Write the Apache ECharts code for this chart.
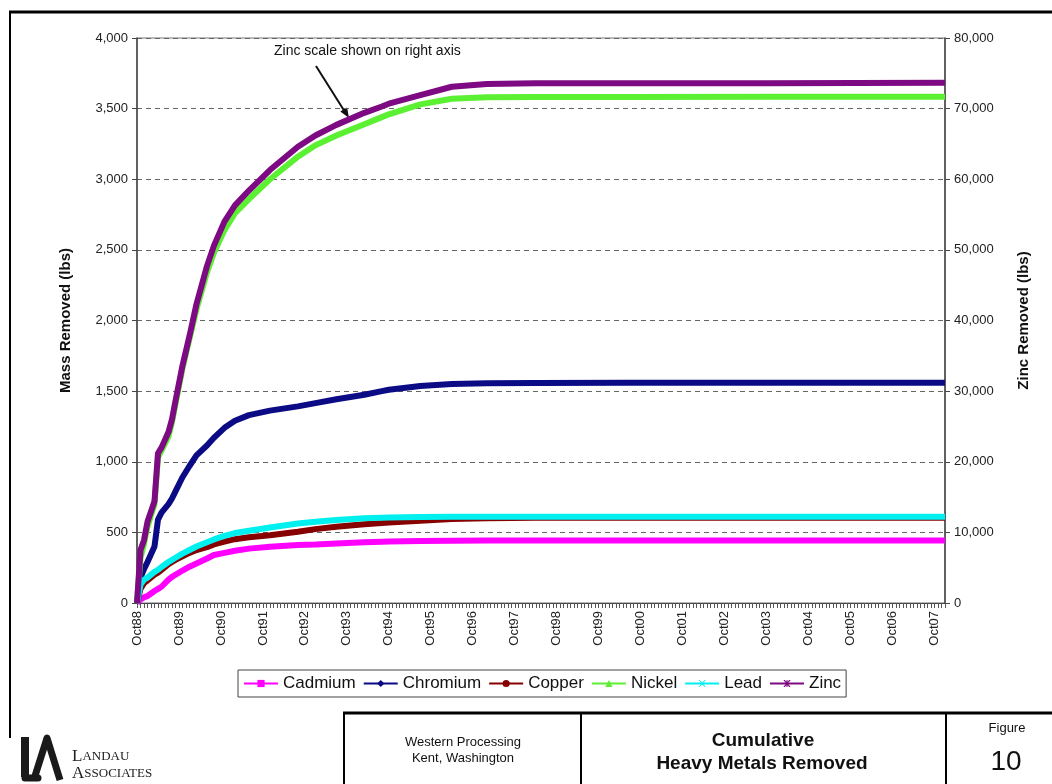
<!DOCTYPE html>
<html>
<head>
<meta charset="utf-8">
<script src="https://cdn.jsdelivr.net/npm/echarts@6/dist/echarts.min.js"></script>
<style>
  html, body { margin: 0; padding: 0; background: #fff; }
  #chart { width: 1052px; height: 784px; }
</style>
</head>
<body>
<div id="chart"></div>
<script>
// month categories, Oct 1988 .. Jan 2008
const monthNames = ['Jan', 'Feb', 'Mar', 'Apr', 'May', 'Jun', 'Jul', 'Aug', 'Sep', 'Oct', 'Nov', 'Dec'];
const months = [];
for (let i = 0; i < 232; i++) {
  let m = (9 + i) % 12;
  let y = (88 + Math.floor((9 + i) / 12)) % 100;
  months.push(monthNames[m] + String(y).padStart(2, '0'));
}

const sampleIdx = [0, 1, 2, 3, 5, 6, 7, 9, 10, 11, 13, 15, 17, 20, 22, 25, 28, 32, 38, 46, 51, 57, 65, 70, 72, 81, 90, 100, 114, 140, 180, 231];

// cumulative lbs removed
const cadmium = [0, 25, 40, 50, 85, 100, 115, 165, 185, 200, 230, 257, 280, 315, 340, 355, 370, 385, 398, 410, 415, 422, 430, 434, 435, 439, 441, 442, 442, 442, 442, 442];
const chromium = [0, 180, 240, 290, 400, 590, 640, 700, 740, 790, 890, 970, 1045, 1115, 1170, 1240, 1290, 1330, 1362, 1392, 1415, 1442, 1474, 1500, 1510, 1537, 1550, 1555, 1557, 1559, 1560, 1560];
const copper = [0, 100, 140, 160, 200, 215, 235, 275, 290, 305, 330, 355, 375, 395, 415, 435, 452, 465, 480, 505, 523, 540, 558, 566, 570, 582, 594, 600, 603, 604, 604, 604];
const nickel = [0, 320, 420, 540, 700, 1030, 1080, 1180, 1280, 1410, 1660, 1870, 2080, 2340, 2480, 2640, 2760, 2860, 3000, 3160, 3240, 3310, 3390, 3440, 3460, 3530, 3570, 3580, 3582, 3583, 3584, 3584];
const lead = [0, 130, 165, 180, 220, 235, 255, 290, 305, 320, 350, 375, 400, 430, 450, 475, 495, 512, 535, 563, 575, 588, 600, 604, 605, 609, 610, 611, 611, 611, 611, 611];
// zinc on right axis
const zinc = [0, 7500, 8900, 11500, 14400, 21200, 22000, 24200, 26000, 28600, 33600, 37800, 42300, 47700, 50600, 54000, 56300, 58400, 61300, 64600, 66200, 67700, 69400, 70300, 70700, 71900, 73100, 73500, 73600, 73600, 73600, 73650];

function pairs(vals) {
  return sampleIdx.map((m, i) => [m, vals[i]]);
}
function commas(v) {
  return String(v).replace(/\B(?=(\d{3})+(?!\d))/g, ',');
}

const starX = 'path://M0,0 L2,0 L5,3.5 L8,0 L10,0 L6.2,5 L10,10 L8,10 L5,6.5 L2,10 L0,10 L3.8,5 Z M4.3,0 L5.7,0 L5.7,10 L4.3,10 Z';
const plainX = 'path://M0,0 L1.5,0 L5,4 L8.5,0 L10,0 L5.8,5 L10,10 L8.5,10 L5,6 L1.5,10 L0,10 L4.2,5 Z';

function metal(name, vals, color, symbol, size, axis) {
  return {
    name: name,
    type: 'line',
    yAxisIndex: axis || 0,
    data: pairs(vals),
    symbol: symbol,
    symbolSize: size,
    showSymbol: false,
    lineStyle: { color: color, width: 6 },
    itemStyle: { color: color, borderWidth: 0 },
    animation: false
  };
}

let chart = echarts.init(document.getElementById('chart'));
let option = {
  animation: false,
  textStyle: { fontFamily: 'Arial, Liberation Sans, sans-serif' },
  grid: { left: 137, right: 107, top: 38, bottom: 181, show: true, borderColor: '#777', borderWidth: 1 },
  legend: {
    left: 238, top: 670,
    itemWidth: 34, itemHeight: 9, itemGap: 7,
    padding: [5, 5],
    borderColor: '#444', borderWidth: 1,
    textStyle: { fontSize: 17, color: '#111', fontFamily: 'Arial, Liberation Sans, sans-serif' },
    data: ['Cadmium', 'Chromium', 'Copper', 'Nickel', 'Lead', 'Zinc']
  },
  xAxis: {
    type: 'category',
    data: months,
    boundaryGap: false,
    axisLine: { lineStyle: { color: '#444', width: 1 } },
    axisTick: { interval: 0, length: 5, lineStyle: { color: '#555' } },
    axisLabel: {
      interval: 11, rotate: 90, fontSize: 13, color: '#222', margin: 8,
      fontFamily: 'Arial, Liberation Sans, sans-serif'
    },
    splitLine: { show: false }
  },
  yAxis: [{
    type: 'value', min: 0, max: 4000, interval: 500,
    name: 'Mass Removed (lbs)', nameLocation: 'middle', nameGap: 64, nameRotate: 90,
    nameTextStyle: { fontSize: 15, fontWeight: 'bold', color: '#111' },
    axisLine: { show: true, lineStyle: { color: '#444', width: 1.5 } },
    axisTick: { show: true, length: 5, lineStyle: { color: '#444' } },
    axisLabel: { fontSize: 13, color: '#222', margin: 9, formatter: commas },
    splitLine: { lineStyle: { color: '#666', type: [5, 4], width: 1 } }
  }, {
    type: 'value', min: 0, max: 80000, interval: 10000, position: 'right',
    name: 'Zinc Removed (lbs)', nameLocation: 'middle', nameGap: 71, nameRotate: 90,
    nameTextStyle: { fontSize: 15, fontWeight: 'bold', color: '#111' },
    axisLine: { show: true, lineStyle: { color: '#444', width: 1.5 } },
    axisTick: { show: true, length: 5, lineStyle: { color: '#444' } },
    axisLabel: { fontSize: 13, color: '#222', margin: 9, formatter: commas },
    splitLine: { show: false }
  }],
  series: [
    metal('Cadmium', cadmium, '#ff00ff', 'rect', 7),
    metal('Chromium', chromium, '#0b0b85', 'diamond', 8),
    metal('Copper', copper, '#870000', 'circle', 7),
    metal('Nickel', nickel, '#5cf032', 'triangle', 8),
    metal('Lead', lead, '#00f0f0', plainX, 6),
    metal('Zinc', zinc, '#7d0a82', starX, 9, 1)
  ],
  graphic: [
    // page frame
    { type: 'line', shape: { x1: 9, y1: 12, x2: 1052, y2: 12 }, style: { stroke: '#000', lineWidth: 3 } },
    { type: 'line', shape: { x1: 10, y1: 11, x2: 10, y2: 738 }, style: { stroke: '#000', lineWidth: 2 } },
    // annotation
    { type: 'text', left: 274, top: 44, style: { text: 'Zinc scale shown on right axis', font: '14px Arial, Liberation Sans, sans-serif', fill: '#111' } },
    { type: 'line', shape: { x1: 316, y1: 66, x2: 345, y2: 112 }, style: { stroke: '#111', lineWidth: 2 } },
    { type: 'polygon', shape: { points: [[349, 118], [340.3, 111.6], [347.1, 107.4]] }, style: { fill: '#111' } },
    // footer boxes
    { type: 'line', shape: { x1: 343, y1: 713, x2: 1052, y2: 713 }, style: { stroke: '#000', lineWidth: 3 } },
    { type: 'line', shape: { x1: 344, y1: 712, x2: 344, y2: 784 }, style: { stroke: '#000', lineWidth: 2 } },
    { type: 'line', shape: { x1: 581, y1: 712, x2: 581, y2: 784 }, style: { stroke: '#000', lineWidth: 2 } },
    { type: 'line', shape: { x1: 946, y1: 712, x2: 946, y2: 784 }, style: { stroke: '#000', lineWidth: 2 } },
    { type: 'text', x: 463, y: 742, style: { text: 'Western Processing', align: 'center', verticalAlign: 'middle', font: '13px "Liberation Sans Narrow", Arial, sans-serif', fill: '#111' } },
    { type: 'text', x: 463, y: 758, style: { text: 'Kent, Washington', align: 'center', verticalAlign: 'middle', font: '13px "Liberation Sans Narrow", Arial, sans-serif', fill: '#111' } },
    { type: 'text', x: 763, y: 741, style: { text: 'Cumulative', align: 'center', verticalAlign: 'middle', font: 'bold 19px "Liberation Sans Narrow", Arial, sans-serif', fill: '#111' } },
    { type: 'text', x: 762, y: 764, style: { text: 'Heavy Metals Removed', align: 'center', verticalAlign: 'middle', font: 'bold 19px "Liberation Sans Narrow", Arial, sans-serif', fill: '#111' } },
    { type: 'text', x: 1007, y: 728, style: { text: 'Figure', align: 'center', verticalAlign: 'middle', font: '13px "Liberation Sans Narrow", Arial, sans-serif', fill: '#111' } },
    { type: 'text', x: 1006, y: 762, style: { text: '10', align: 'center', verticalAlign: 'middle', font: '28px "Liberation Sans Narrow", Arial, sans-serif', fill: '#111' } },
    // logo
    { type: 'rect', shape: { x: 21, y: 737, width: 8, height: 40 }, style: { fill: '#1a1a1a' } },
    { type: 'polyline', shape: { points: [[25, 778], [38, 778]] }, style: { stroke: '#1a1a1a', lineWidth: 7, lineCap: 'round' } },
    { type: 'polyline', shape: { points: [[35, 776], [47, 738], [60, 780]] }, style: { stroke: '#1a1a1a', lineWidth: 7, lineJoin: 'round', fill: null } },
    { type: 'text', left: 72, top: 748, style: {
        text: '{a|L}{b|ANDAU}\n{a|A}{b|SSOCIATES}',
        rich: {
          a: { fontSize: 17, fontFamily: 'Liberation Serif, DejaVu Serif, serif', fill: '#222', lineHeight: 17 },
          b: { fontSize: 13, fontFamily: 'Liberation Serif, DejaVu Serif, serif', fill: '#222', lineHeight: 17 }
        }
      } }
  ]
};
chart.setOption(option);
</script>
</body>
</html>
